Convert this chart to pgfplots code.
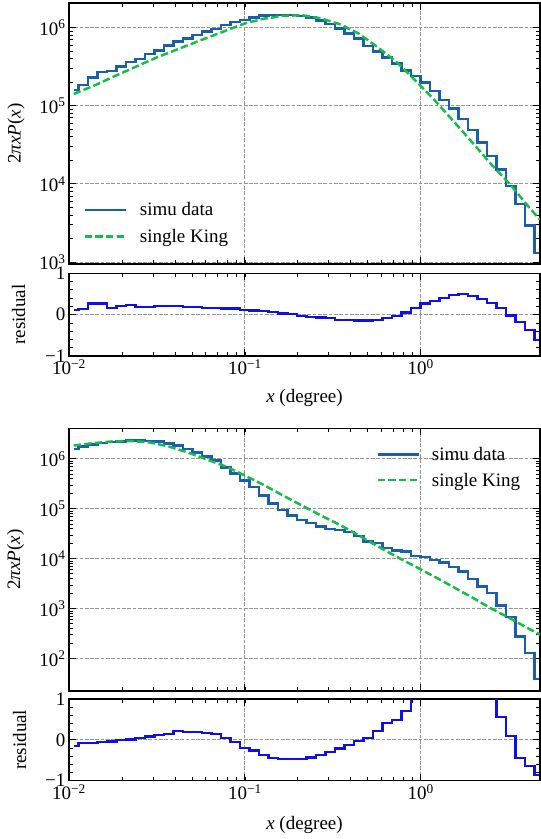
\documentclass[border=0pt]{standalone}
\usepackage{fontspec}
\setmainfont{Liberation Serif}
\usepackage{pgfplots}
\usepackage{pgfplotstable}
\pgfplotsset{compat=1.18}
\definecolor{simublue}{RGB}{26,95,175}
\definecolor{kinggreen}{RGB}{20,190,70}
\definecolor{resblue}{RGB}{15,15,235}
\definecolor{gridgray}{RGB}{150,150,150}
\newcommand{\fs}{\fontsize{19}{22}\selectfont}

\pgfplotstableread[row sep=\\]{
x top res1 bot res2 \\
0.010641 1.585e5 0.12 1.585e6 -0.15 \\
0.012050 1.841e5 0.13 1.766e6 -0.08 \\
0.013646 2.291e5 0.27 1.963e6 -0.07 \\
0.015453 2.692e5 0.27 2.089e6 -0.06 \\
0.017498 2.786e5 0.16 2.188e6 -0.04 \\
0.019815 3.162e5 0.20 2.254e6 -0.01 \\
0.022439 3.631e5 0.23 2.328e6 0.01 \\
0.025410 3.981e5 0.19 2.360e6 0.04 \\
0.028774 4.571e5 0.19 2.291e6 0.08 \\
0.032584 5.129e5 0.20 2.223e6 0.11 \\
0.036898 5.888e5 0.21 2.056e6 0.15 \\
0.041783 6.607e5 0.20 1.849e6 0.21 \\
0.047315 7.244e5 0.19 1.585e6 0.20 \\
0.053580 8.035e5 0.18 1.358e6 0.19 \\
0.060674 8.913e5 0.17 1.114e6 0.16 \\
0.068707 9.661e5 0.16 9.268e5 0.14 \\
0.077804 1.084e6 0.15 6.714e5 0.04 \\
0.088105 1.175e6 0.15 5.093e5 -0.06 \\
0.099770 1.259e6 0.105 3.690e5 -0.19 \\
0.11298 1.358e6 0.10 2.754e5 -0.26 \\
0.12794 1.426e6 0.08 1.849e5 -0.38 \\
0.14488 1.455e6 0.07 1.279e5 -0.45 \\
0.16406 1.455e6 0.03 9.550e4 -0.46 \\
0.18578 1.445e6 0.015 7.362e4 -0.47 \\
0.21038 1.413e6 -0.025 6.026e4 -0.46 \\
0.23823 1.343e6 -0.05 5.188e4 -0.43 \\
0.26977 1.230e6 -0.07 4.436e4 -0.38 \\
0.30549 1.114e6 -0.09 3.981e4 -0.29 \\
0.34594 9.772e5 -0.12 3.802e4 -0.21 \\
0.39174 8.472e5 -0.13 3.412e4 -0.13 \\
0.44361 7.228e5 -0.14 2.884e4 -0.02 \\
0.50234 5.821e5 -0.14 2.223e4 0.04 \\
0.56885 4.920e5 -0.12 2.056e4 0.22 \\
0.64417 4.169e5 -0.08 1.633e4 0.42 \\
0.72946 3.499e5 -0.04 1.469e4 0.49 \\
0.82604 2.831e5 0.05 1.403e4 0.71 \\
0.93541 2.415e5 0.17 1.148e4 1.3 \\
1.0593 1.972e5 0.27 1.079e4 1.6 \\
1.1995 1.556e5 0.33 9.550e3 1.9 \\
1.3583 1.183e5 0.40 8.453e3 2.1 \\
1.5382 9.247e4 0.48 6.808e3 2.3 \\
1.7418 6.761e4 0.49 5.585e3 2.4 \\
1.9724 4.875e4 0.46 3.917e3 2.2 \\
2.2336 3.388e4 0.37 2.799e3 1.9 \\
2.5293 2.265e4 0.29 2.056e3 1.5 \\
2.8642 1.531e4 0.17 1.148e3 0.55 \\
3.2434 9.441e3 -0.02 6.808e2 0.10 \\
3.6728 5.495e3 -0.18 2.799e2 -0.45 \\
4.1591 2.951e3 -0.38 1.297e2 -0.64 \\
4.7098 1.303e3 -0.62 3.917e1 -0.87 \\
}\bins

\pgfplotstableread[row sep=\\]{
x y \\
0.010641 1.413e5 \\
0.014125 1.841e5 \\
0.017783 2.344e5 \\
0.031623 4.169e5 \\
0.056234 6.918e5 \\
0.1 1.135e6 \\
0.12794 1.303e6 \\
0.16406 1.413e6 \\
0.21038 1.445e6 \\
0.26977 1.318e6 \\
0.34594 1.109e6 \\
0.44361 8.414e5 \\
0.56885 5.623e5 \\
0.72946 3.631e5 \\
0.93541 2.089e5 \\
1.1995 1.175e5 \\
1.5382 6.310e4 \\
1.9724 3.350e4 \\
2.5293 1.758e4 \\
3.2434 9.661e3 \\
4.1591 4.898e3 \\
4.7643 3.467e3 \\
}\kingtop

\pgfplotstableread[row sep=\\]{
x y \\
0.010641 1.862e6 \\
0.013646 2.065e6 \\
0.017498 2.239e6 \\
0.022439 2.291e6 \\
0.028774 2.138e6 \\
0.036898 1.778e6 \\
0.047315 1.349e6 \\
0.060674 9.772e5 \\
0.077804 7.079e5 \\
0.099770 4.677e5 \\
0.12794 3.020e5 \\
0.16406 1.862e5 \\
0.21038 1.175e5 \\
0.26977 7.413e4 \\
0.34594 4.786e4 \\
0.44361 2.951e4 \\
0.56885 1.778e4 \\
0.72946 1.096e4 \\
0.93541 6.918e3 \\
1.1995 4.365e3 \\
1.5382 2.692e3 \\
1.9724 1.660e3 \\
2.5293 1.000e3 \\
3.2434 6.310e2 \\
4.1591 3.890e2 \\
4.7643 3.020e2 \\
}\kingbot

\pgfplotsset{mylegline/.style={legend image code/.code={\draw[##1] (0pt,0pt) -- (41pt,0pt);}}}

\begin{document}
\begin{tikzpicture}
\pgfplotsset{
  every axis/.append style={
    scale only axis, width=471pt, anchor=south west,
    xmin=0.01, xmax=4.76,
    axis line style={line width=1.2pt},
    tick align=inside, xtick pos=both, ytick pos=both,
    major tick length=7pt, minor tick length=4pt,
    every major tick/.append style={black, line width=1pt},
    every minor tick/.append style={black, line width=0.8pt},
    grid=major,
    major grid style={gridgray, dash pattern=on 3.7pt off 1.6pt, line width=0.9pt},
    tick label style={font=\fs},
    label style={font=\fs},
    xtick={0.01,0.1,1},
    legend cell align=left,
  },
}
% top main
\begin{semilogyaxis}[xmode=log, at={(69pt,575pt)}, height=261pt,
  xticklabels={},
  ylabel={2\textit{πxP}(\textit{x})},
  ylabel style={at={(axis description cs:-0.1125,0.5)}, anchor=center},
  ymin=943, ymax=2.07e6, ytick={1e3,1e4,1e5,1e6},
  yticklabels={10\textsuperscript{3},10\textsuperscript{4},10\textsuperscript{5},10\textsuperscript{6}},
  legend style={draw=none, fill=none, at={(rel axis cs:0.024,0.252)}, anchor=north west, font=\fs, row sep=8pt,
    /tikz/every odd column/.append style={column sep=11pt}}]
\addplot[simublue, line width=2.5pt, const plot mark mid, mylegline] table[x=x,y=top] {\bins};
\addlegendentry{simu data}
\addplot[kinggreen, line width=2.5pt, dash pattern=on 7.4pt off 3.2pt, mylegline] table[x=x,y=y] {\kingtop};
\addlegendentry{single King}
\end{semilogyaxis}
% top residual
\begin{semilogxaxis}[at={(69pt,483pt)}, height=82.7pt,
  ymin=-1, ymax=1, ytick={-1,0,1},
  yticklabels={−1,0,1}, minor y tick num=4,
  xticklabels={10\textsuperscript{−2},10\textsuperscript{−1},10\textsuperscript{0}},
  xlabel={\textit{x} (degree)},
  ylabel={residual},
  ylabel style={at={(axis description cs:-0.107,0.5)}, anchor=center},
  xlabel style={at={(axis description cs:0.5,-0.508)}, anchor=center}]
\addplot[resblue, line width=2.2pt, const plot mark mid] table[x=x,y=res1] {\bins};
\end{semilogxaxis}
% bottom main
\begin{semilogyaxis}[xmode=log, at={(69pt,148pt)}, height=262.7pt,
  xticklabels={},
  ylabel={2\textit{πxP}(\textit{x})},
  ylabel style={at={(axis description cs:-0.1136,0.5)}, anchor=center},
  ymin=22.5, ymax=4.11e6, ytick={1e2,1e3,1e4,1e5,1e6},
  yticklabels={10\textsuperscript{2},10\textsuperscript{3},10\textsuperscript{4},10\textsuperscript{5},10\textsuperscript{6}},
  legend style={draw=none, fill=none, at={(rel axis cs:0.646,0.944)}, anchor=north west, font=\fs, row sep=7pt,
    /tikz/every odd column/.append style={column sep=10pt}}]
\addplot[simublue, line width=2.5pt, const plot mark mid, mylegline] table[x=x,y=bot] {\bins};
\addlegendentry{simu data}
\addplot[kinggreen, line width=2.5pt, dash pattern=on 7.4pt off 3.2pt, mylegline] table[x=x,y=y] {\kingbot};
\addlegendentry{single King}
\end{semilogyaxis}
% bottom residual
\begin{semilogxaxis}[at={(69pt,58.3pt)}, height=81.7pt,
  ymin=-1, ymax=1, ytick={-1,0,1},
  yticklabels={−1,0,1}, minor y tick num=4,
  xticklabels={10\textsuperscript{−2},10\textsuperscript{−1},10\textsuperscript{0}},
  xlabel={\textit{x} (degree)},
  ylabel={residual},
  ylabel style={at={(axis description cs:-0.105,0.5)}, anchor=center},
  xlabel style={at={(axis description cs:0.5,-0.542)}, anchor=center}]
\addplot[resblue, line width=2.2pt, const plot mark mid] table[x=x,y=res2] {\bins};
\end{semilogxaxis}
\pgfresetboundingbox
\path (0pt,0pt) rectangle (541pt,839pt);
\end{tikzpicture}
\end{document}
